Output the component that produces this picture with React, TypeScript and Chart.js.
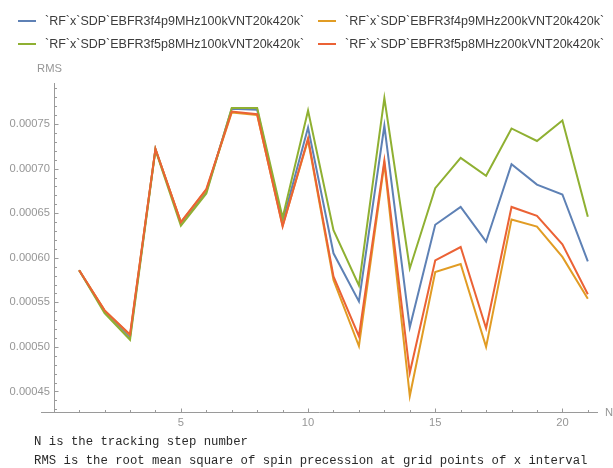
import React, { useEffect, useRef } from "react";
import { Chart, registerables } from "chart.js";

Chart.register(...registerables);

// Tracking step number N
const steps = [1, 2, 3, 4, 5, 6, 7, 8, 9, 10, 11, 12, 13, 14, 15, 16, 17, 18, 19, 20, 21];

// RMS of spin precession per run
const rms4p9at100k = [
  0.000586, 0.00054, 0.000511, 0.000722, 0.000639, 0.000674, 0.000767, 0.000766, 0.00064, 0.000746, 0.000605,
  0.000551, 0.000748, 0.000522, 0.000637, 0.000657, 0.000618, 0.000705, 0.000682, 0.000671, 0.000596,
];
const rms4p9at200k = [
  0.000586, 0.000541, 0.000513, 0.000722, 0.00064, 0.000676, 0.000763, 0.00076, 0.000636, 0.000732, 0.000575,
  0.000501, 0.000706, 0.000445, 0.000584, 0.000593, 0.0005, 0.000643, 0.000635, 0.000601, 0.000554,
];
const rms5p8at100k = [
  0.000586, 0.000538, 0.000508, 0.000721, 0.000636, 0.000672, 0.000768, 0.000768, 0.000645, 0.000765, 0.000631,
  0.000569, 0.000779, 0.000588, 0.000678, 0.000712, 0.000692, 0.000745, 0.000731, 0.000754, 0.000646,
];
const rms5p8at200k = [
  0.000586, 0.000541, 0.000514, 0.000722, 0.00064, 0.000677, 0.000764, 0.000761, 0.000635, 0.000734, 0.000579,
  0.000512, 0.000709, 0.000471, 0.000597, 0.000612, 0.000521, 0.000657, 0.000647, 0.000615, 0.000559,
];

const seriesNames = [
  "`RF`x`SDP`EBFR3f4p9MHz100kVNT20k420k`",
  "`RF`x`SDP`EBFR3f4p9MHz200kVNT20k420k`",
  "`RF`x`SDP`EBFR3f5p8MHz100kVNT20k420k`",
  "`RF`x`SDP`EBFR3f5p8MHz200kVNT20k420k`",
];
const seriesColors = ["#5e81b5", "#e19c24", "#8fb032", "#eb6235"];
const seriesValues = [rms4p9at100k, rms4p9at200k, rms5p8at100k, rms5p8at200k];

const xMajorTicks = [5, 10, 15, 20];
const yMajorTicks = [0.00045, 0.0005, 0.00055, 0.0006, 0.00065, 0.0007, 0.00075];

const notes = [
  "N is the tracking step number",
  "RMS is the root mean square of spin precession at grid points of x interval",
];

const AXIS_COLOR = "#9a9a9a";
const LABEL_COLOR = "#969696";

// Axes drawn in the style of a notebook plot: ticks pointing inward,
// y axis crossing at N = 0, minor ticks between the labelled ones.
const notebookAxes = {
  id: "notebookAxes",
  beforeDatasetsDraw(chart: any) {
    const { ctx, chartArea, scales } = chart;
    const xs = scales.x;
    const ys = scales.y;
    const x0 = Math.round(xs.getPixelForValue(0)) + 0.5;
    const yb = Math.round(chartArea.bottom) + 0.5;
    ctx.save();
    ctx.strokeStyle = AXIS_COLOR;
    ctx.lineWidth = 1;
    ctx.beginPath();
    ctx.moveTo(chartArea.left, yb);
    ctx.lineTo(chartArea.right, yb);
    ctx.moveTo(x0, chartArea.top);
    ctx.lineTo(x0, yb);
    // x ticks
    for (let n = 1; n <= Math.floor(xs.max); n++) {
      const px = Math.round(xs.getPixelForValue(n)) + 0.5;
      const len = n % 5 === 0 ? 4 : 2.5;
      ctx.moveTo(px, yb);
      ctx.lineTo(px, yb - len);
    }
    // y ticks (every 1e-5, labelled every 5e-5)
    for (let k = Math.ceil(ys.min * 1e5); k <= Math.floor(ys.max * 1e5); k++) {
      const py = Math.round(ys.getPixelForValue(k / 1e5)) + 0.5;
      const len = k % 5 === 0 ? 4 : 2.5;
      ctx.moveTo(x0, py);
      ctx.lineTo(x0 + len, py);
    }
    ctx.stroke();

    ctx.fillStyle = LABEL_COLOR;
    ctx.font = "11.2px 'Liberation Sans', Arial, sans-serif";
    ctx.textAlign = "center";
    ctx.textBaseline = "middle";
    xMajorTicks.forEach((t) => {
      ctx.fillText(String(t), xs.getPixelForValue(t), yb + 10);
    });
    ctx.textAlign = "right";
    yMajorTicks.forEach((t) => {
      ctx.fillText(t.toFixed(5), x0 - 4.5, ys.getPixelForValue(t));
    });
    ctx.textAlign = "center";
    ctx.fillText("RMS", x0 - 5, chartArea.top - 14);
    ctx.textAlign = "left";
    ctx.fillText("N", chartArea.right + 7, yb);
    ctx.restore();
  },
};

export default function App() {
  const canvasRef = useRef<HTMLCanvasElement | null>(null);

  useEffect(() => {
    const canvas = canvasRef.current;
    if (!canvas) return;
    const order = [3, 2, 1, 0];
    const chart = new Chart(canvas, {
      type: "line",
      data: {
        datasets: seriesValues.map((vals, i) => ({
          label: seriesNames[i],
          data: steps.map((n, j) => ({ x: n, y: vals[j] })),
          borderColor: seriesColors[i],
          backgroundColor: seriesColors[i],
          borderWidth: 2,
          pointRadius: 0,
          tension: 0,
          fill: false,
          order: order[i],
        })),
      },
      options: {
        animation: false,
        responsive: false,
        devicePixelRatio: 1,
        events: [],
        layout: { padding: { left: 41, right: 15, top: 83, bottom: 56 } },
        plugins: { legend: { display: false }, tooltip: { enabled: false } },
        scales: {
          x: { type: "linear", min: -0.5, max: 21.4, display: false },
          y: { type: "linear", min: 0.000427, max: 0.000796, display: false },
        },
      },
      plugins: [notebookAxes],
    });
    return () => chart.destroy();
  }, []);

  const legendPos = [
    { left: 18, top: 21 },
    { left: 318, top: 21 },
    { left: 18, top: 44 },
    { left: 318, top: 44 },
  ];

  return (
    <div style={{ position: "absolute", left: 0, top: 0, width: 613, height: 468, background: "#fff", overflow: "hidden" }}>
      <canvas
        ref={canvasRef}
        width={613}
        height={468}
        style={{ position: "absolute", left: 0, top: 0, width: 613, height: 468 }}
      />
      {seriesNames.map((name, i) => (
        <div
          key={name}
          style={{
            position: "absolute",
            left: legendPos[i].left,
            top: legendPos[i].top - 8,
            height: 16,
            display: "flex",
            alignItems: "center",
            whiteSpace: "nowrap",
            fontFamily: "'Liberation Sans', Arial, sans-serif",
            fontSize: 12.5,
            color: "#3c3c3c",
          }}
        >
          <span style={{ display: "inline-block", width: 18, height: 2, background: seriesColors[i], marginRight: 9 }} />
          <span>{name}</span>
        </div>
      ))}
      {notes.map((t, i) => (
        <div
          key={t}
          style={{
            position: "absolute",
            left: 34,
            top: 433 + i * 19,
            height: 18,
            lineHeight: "18px",
            whiteSpace: "pre",
            fontFamily: "'Liberation Mono', 'DejaVu Sans Mono', monospace",
            fontSize: 12.3,
            color: "#2a2a2a",
          }}
        >
          {t}
        </div>
      ))}
    </div>
  );
}
